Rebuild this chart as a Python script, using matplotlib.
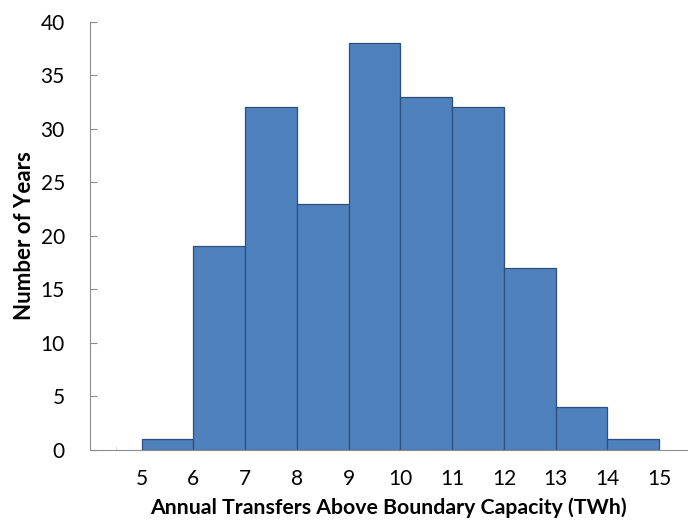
import numpy as np
import matplotlib.pyplot as plt

# histogram data
bin_edges = [5, 6, 7, 8, 9, 10, 11, 12, 13, 14, 15]
counts = [1, 19, 32, 23, 38, 33, 32, 17, 4, 1]

plt.rcParams['font.family'] = ['Lato', 'DejaVu Sans']

fig = plt.figure(figsize=(6.88, 5.2), dpi=100)
ax = fig.add_axes([0.1305, 0.135, 0.869, 0.8235])

ax.bar(bin_edges[:-1], counts, width=1.0, align='edge',
       color='#4F81BD', edgecolor='#2F4F7A', linewidth=0.9, zorder=2)

ax.set_xlim(4, 15.55)
ax.set_ylim(0, 40)
ax.set_xticks(bin_edges)
ax.set_xticks(np.arange(4.5, 15.5, 1), minor=True)
ax.set_yticks(range(0, 41, 5))

for s in ['top', 'right']:
    ax.spines[s].set_visible(False)
ax.spines['left'].set_color('#8C8C8C')
ax.spines['bottom'].set_color('#8C8C8C')

ax.tick_params(axis='y', direction='in', length=5, color='#8C8C8C',
               labelsize=15, pad=18)
ax.tick_params(axis='x', which='major', length=0, labelsize=15, pad=14)
ax.tick_params(axis='x', which='minor', direction='in', length=3,
               color='#D9D9D9')

ax.set_xlabel('Annual Transfers Above Boundary Capacity (TWh)',
              fontsize=15.3, fontweight='bold', labelpad=6)
ax.set_ylabel('Number of Years', fontsize=16, fontweight='bold', labelpad=4)

fig.savefig('out.png', dpi=100)
